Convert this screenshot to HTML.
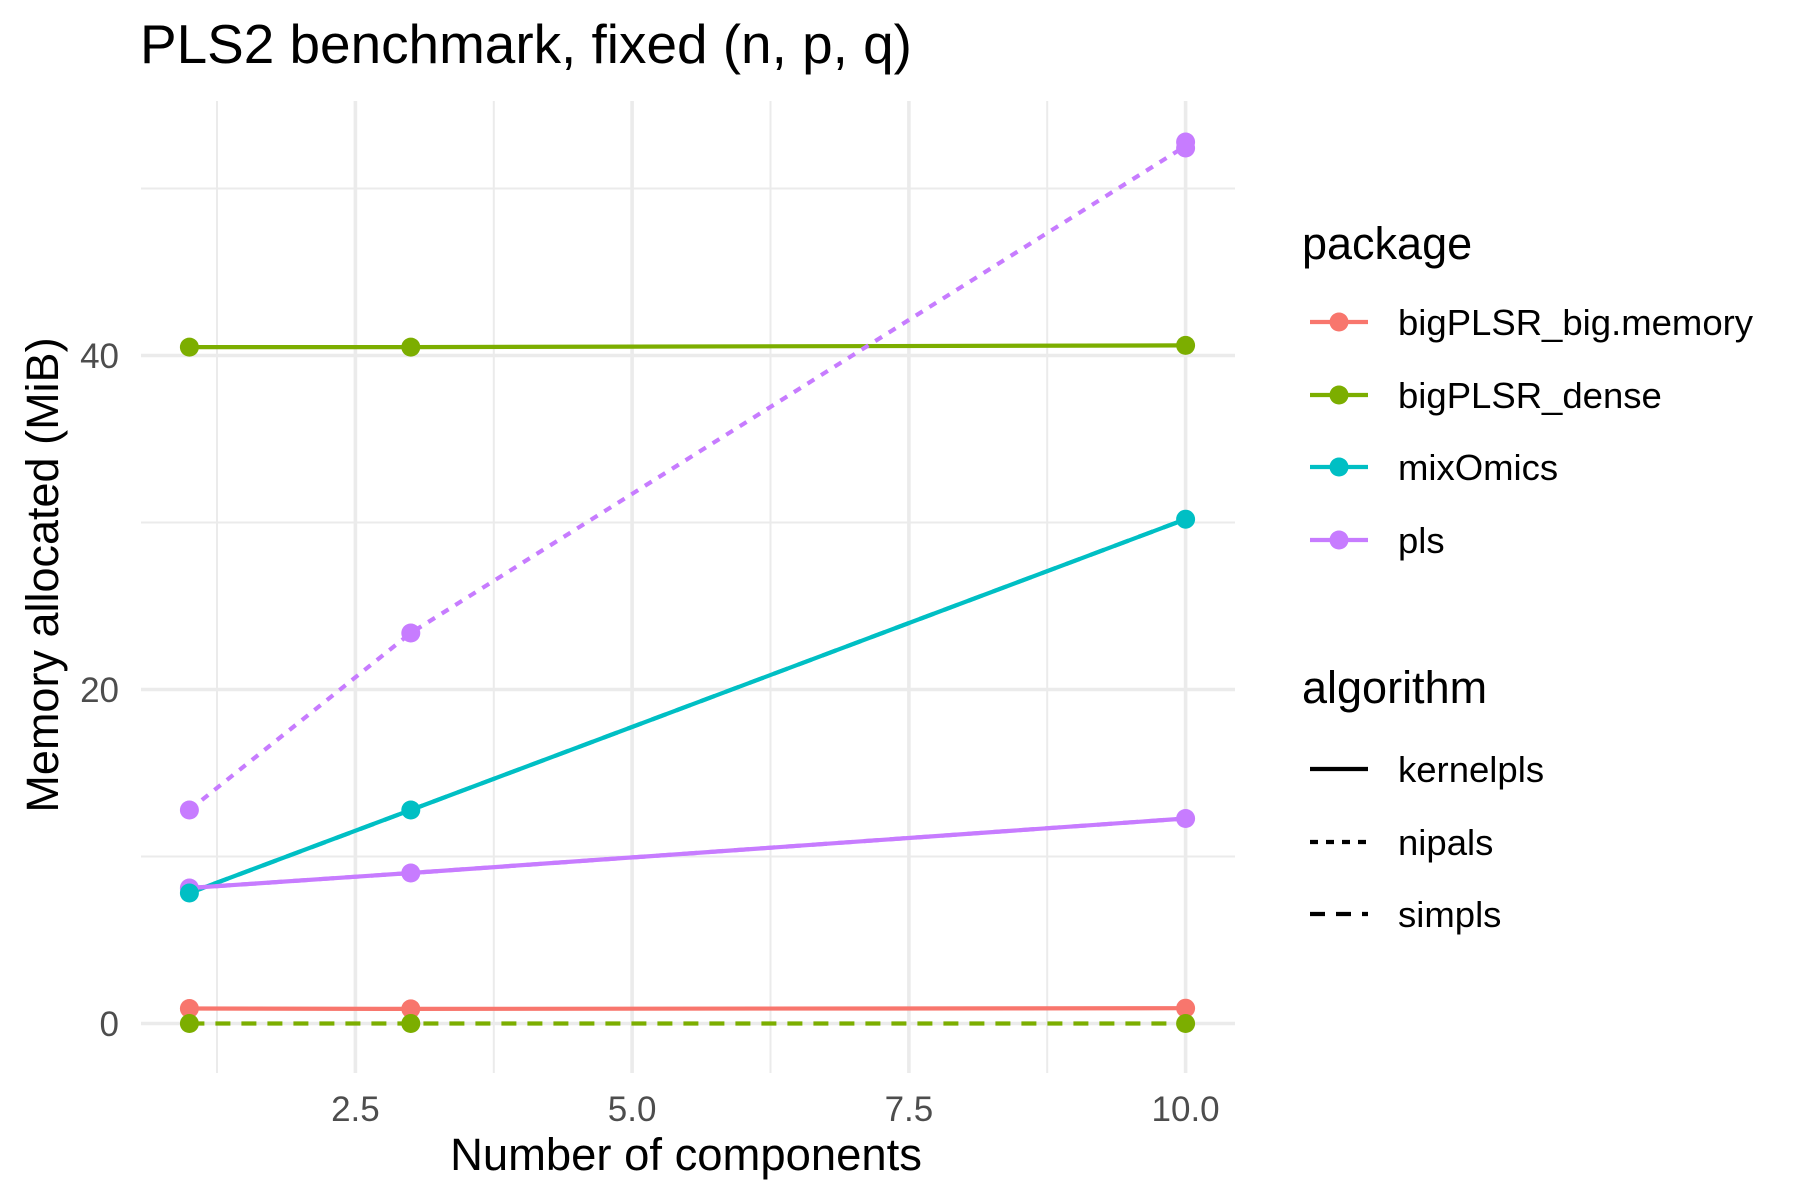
<!DOCTYPE html>
<html><head><meta charset="utf-8"><style>
html,body{margin:0;padding:0;background:#fff;}
svg{display:block;}
text{font-family:"Liberation Sans",Arial,sans-serif;}
</style></head><body>
<svg width="1800" height="1200" viewBox="0 0 1800 1200" xmlns="http://www.w3.org/2000/svg">
<rect width="1800" height="1200" fill="#fff"/>
<text x="140" y="63" font-size="54.9" fill="#000">PLS2 benchmark, fixed (n, p, q)</text>
<g stroke="#EBEBEB" stroke-width="2">
<line x1="141" x2="1235" y1="856.5" y2="856.5"/>
<line x1="141" x2="1235" y1="522.5" y2="522.5"/>
<line x1="141" x2="1235" y1="188.5" y2="188.5"/>
<line x1="217" x2="217" y1="101" y2="1073"/>
<line x1="493.8" x2="493.8" y1="101" y2="1073"/>
<line x1="770.5" x2="770.5" y1="101" y2="1073"/>
<line x1="1047.2" x2="1047.2" y1="101" y2="1073"/>
</g>
<g stroke="#EBEBEB" stroke-width="3.6">
<line x1="141" x2="1235" y1="1023.5" y2="1023.5"/>
<line x1="141" x2="1235" y1="689.5" y2="689.5"/>
<line x1="141" x2="1235" y1="355.5" y2="355.5"/>
<line x1="355.4" x2="355.4" y1="101" y2="1073"/>
<line x1="632.1" x2="632.1" y1="101" y2="1073"/>
<line x1="908.9" x2="908.9" y1="101" y2="1073"/>
<line x1="1185.6" x2="1185.6" y1="101" y2="1073"/>
</g>
<g font-size="35" fill="#4D4D4D" text-anchor="end">
<text x="119" y="1036">0</text>
<text x="119" y="702">20</text>
<text x="119" y="368">40</text>
</g>
<g font-size="35" fill="#4D4D4D" text-anchor="middle">
<text x="355.4" y="1121">2.5</text>
<text x="632.1" y="1121">5.0</text>
<text x="908.9" y="1121">7.5</text>
<text x="1185.6" y="1121">10.0</text>
</g>
<text x="686" y="1170" font-size="45.4" text-anchor="middle" fill="#000">Number of components</text>
<text transform="translate(58,575) rotate(-90)" font-size="45" text-anchor="middle" fill="#000">Memory allocated (MiB)</text>
<g fill="none" stroke-width="4.2" stroke-linejoin="round">
<polyline stroke="#F8766D" points="189.4,1008.5 410.8,1008.9 1185.6,1008.2"/>
<polyline stroke="#7CAE00" points="189.4,347.1 410.8,347.1 1185.6,345.4"/>
<polyline stroke="#7CAE00" stroke-dasharray="15,11" points="189.4,1023.5 410.8,1023.5 1185.6,1023.5"/>
<polyline stroke="#00BFC4" stroke-dasharray="15,11" points="189.4,893 410.8,810 1185.6,519.2"/>
<polyline stroke="#00BFC4" points="189.4,893 410.8,810 1185.6,519.2"/>
<polyline stroke="#C77CFF" stroke-dasharray="8,8" points="189.4,810 410.8,633 1185.6,146"/>
<polyline stroke="#C77CFF" stroke-dasharray="15,11" points="189.4,888 410.8,873 1185.6,818.5"/>
<polyline stroke="#C77CFF" points="189.4,888 410.8,873 1185.6,818.5"/>
</g>
<g>
<circle cx="189.4" cy="1008.5" r="9.5" fill="#F8766D"/>
<circle cx="410.8" cy="1008.9" r="9.5" fill="#F8766D"/>
<circle cx="1185.6" cy="1008.2" r="9.5" fill="#F8766D"/>
<circle cx="189.4" cy="1023.5" r="9.5" fill="#7CAE00"/>
<circle cx="410.8" cy="1023.5" r="9.5" fill="#7CAE00"/>
<circle cx="1185.6" cy="1023.5" r="9.5" fill="#7CAE00"/>
<circle cx="189.4" cy="347.1" r="9.5" fill="#7CAE00"/>
<circle cx="410.8" cy="347.1" r="9.5" fill="#7CAE00"/>
<circle cx="1185.6" cy="345.4" r="9.5" fill="#7CAE00"/>
<circle cx="189.4" cy="810" r="9.5" fill="#C77CFF"/>
<circle cx="410.8" cy="633" r="9.5" fill="#C77CFF"/>
<circle cx="1185.6" cy="142" r="9.5" fill="#C77CFF"/>
<circle cx="1185.6" cy="148" r="9.5" fill="#C77CFF"/>
<circle cx="189.4" cy="888" r="9.5" fill="#C77CFF"/>
<circle cx="410.8" cy="873" r="9.5" fill="#C77CFF"/>
<circle cx="1185.6" cy="818.5" r="9.5" fill="#C77CFF"/>
<circle cx="189.4" cy="893" r="9.5" fill="#00BFC4"/>
<circle cx="410.8" cy="810" r="9.5" fill="#00BFC4"/>
<circle cx="1185.6" cy="519.2" r="9.5" fill="#00BFC4"/>
</g>
<text x="1302" y="259" font-size="45" fill="#000">package</text>
<g stroke-width="4.2">
<line x1="1310" x2="1368" y1="322" y2="322" stroke="#F8766D"/>
<line x1="1310" x2="1368" y1="395" y2="395" stroke="#7CAE00"/>
<line x1="1310" x2="1368" y1="467" y2="467" stroke="#00BFC4"/>
<line x1="1310" x2="1368" y1="540" y2="540" stroke="#C77CFF"/>
</g>
<circle cx="1339" cy="322" r="9.5" fill="#F8766D"/>
<circle cx="1339" cy="395" r="9.5" fill="#7CAE00"/>
<circle cx="1339" cy="467" r="9.5" fill="#00BFC4"/>
<circle cx="1339" cy="540" r="9.5" fill="#C77CFF"/>
<g font-size="36.5" fill="#000">
<text x="1398" y="335">bigPLSR_big.memory</text>
<text x="1398" y="408">bigPLSR_dense</text>
<text x="1398" y="480">mixOmics</text>
<text x="1398" y="553">pls</text>
</g>
<text x="1302" y="703" font-size="45" fill="#000">algorithm</text>
<g stroke="#000" stroke-width="4.2">
<line x1="1310" x2="1368" y1="769" y2="769"/>
<line x1="1310" x2="1368" y1="842" y2="842" stroke-dasharray="8,8"/>
<line x1="1310" x2="1368" y1="914" y2="914" stroke-dasharray="15,11"/>
</g>
<g font-size="36.5" fill="#000">
<text x="1398" y="782">kernelpls</text>
<text x="1398" y="855">nipals</text>
<text x="1398" y="927">simpls</text>
</g>
</svg>
</body></html>
